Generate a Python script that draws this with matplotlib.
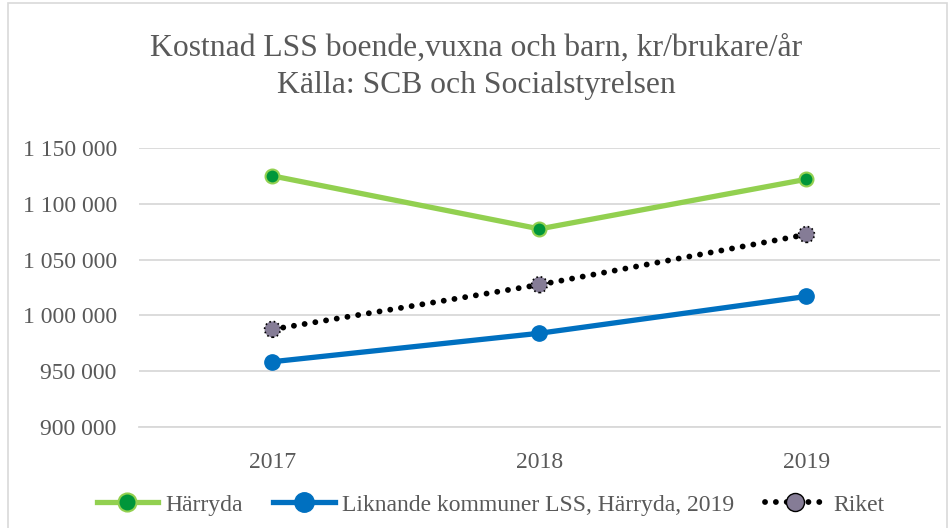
import matplotlib.pyplot as plt
from matplotlib.lines import Line2D
from matplotlib.patches import Rectangle

years = ["2017", "2018", "2019"]
harryda = [1125000, 1077500, 1122000]
liknande = [958500, 984000, 1017000]
riket = [987500, 1027500, 1072500]
yticks = [900000, 950000, 1000000, 1050000, 1100000, 1150000]

plt.rcParams['font.family'] = ['Liberation Serif', 'DejaVu Serif']
gray = '#595959'

fig = plt.figure(figsize=(9.53, 5.28), dpi=100)
ax = fig.add_axes([139 / 953, 1 - 427 / 528, (940 - 139) / 953, (427 - 148) / 528])

x = [0.5, 1.5, 2.5]
dots = (0, (0.01, 1.85))
ax.plot(x, harryda, color='#92d050', lw=3.8, marker='o', ms=10,
        mfc='#00963a', mec='#92d050', mew=1.5, zorder=4)
ax.plot(x, liknande, color='#0070c0', lw=3.8, marker='o', ms=11,
        mfc='#0070c0', mec='#0070c0', zorder=4)
ax.plot(x, riket, color='black', lw=4.2, ls=dots,
        dash_capstyle='round', zorder=3)
ax.scatter(x, riket, s=130, c='#857c96', edgecolors='black',
           linewidths=1.2, linestyle=':', zorder=5)

ax.set_xlim(0, 3)
ax.set_ylim(900000, 1150000)
ax.set_xticks(x)
ax.set_xticklabels(years)
ax.set_yticks(yticks)
ax.set_yticklabels([f"{v:,}".replace(",", " ") for v in yticks])
ax.tick_params(length=0, labelsize=17, colors=gray, pad=16)
ax.tick_params(axis='x', pad=18)
ax.grid(axis='y', color='#d9d9d9', lw=1.3)
ax.set_axisbelow(True)
for s in ['top', 'right', 'left']:
    ax.spines[s].set_visible(False)
ax.spines['bottom'].set_color('#d9d9d9')
ax.spines['bottom'].set_linewidth(1.3)

fig.text(0.5, 1 - 48 / 528, "Kostnad LSS boende,vuxna och barn, kr/brukare/år",
         ha='center', va='center', fontsize=22.8, color=gray)
fig.text(0.5, 1 - 85 / 528, "Källa: SCB och Socialstyrelsen",
         ha='center', va='center', fontsize=22.8, color=gray)

handles = [
    Line2D([], [], color='#92d050', lw=3.8, marker='o', ms=13,
           mfc='#00963a', mec='#92d050', mew=1.5),
    Line2D([], [], color='#0070c0', lw=3.8, marker='o', ms=14,
           mfc='#0070c0', mec='#0070c0'),
    Line2D([], [], color='black', lw=4.2, ls=dots,
           dash_capstyle='round', marker='o', ms=13,
           mfc='#857c96', mec='black', mew=1),
]
fig.legend(handles, ["Härryda", "Liknande kommuner LSS, Härryda, 2019", "Riket"],
           loc='center', bbox_to_anchor=(0.5 + 14 / 953, 1 - 505 / 528), ncol=3,
           frameon=False, fontsize=17, labelcolor=gray, handlelength=2.6,
           columnspacing=1.3, handletextpad=0.3)

fig.add_artist(Rectangle((8 / 953, -0.02), (947 - 8) / 953, 1.0 - 3 / 528 + 0.02,
                         transform=fig.transFigure, fill=False,
                         edgecolor='#d9d9d9', lw=1.2))

fig.savefig('out.png', dpi=100)
